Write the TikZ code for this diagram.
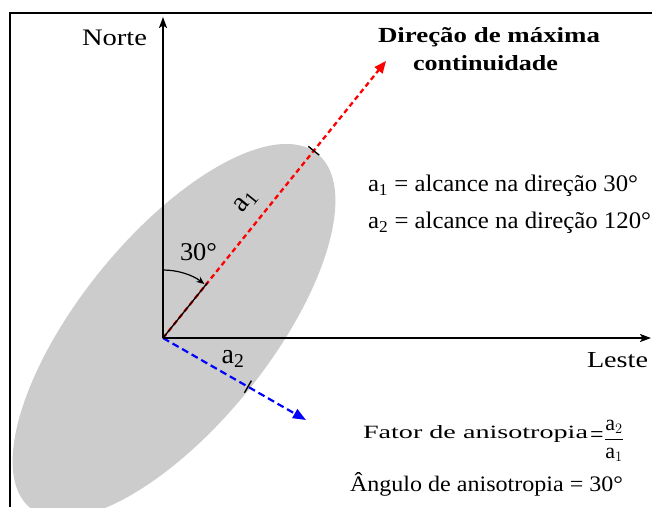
\documentclass[tikz,border=0pt]{standalone}
\usepackage{fontspec}
\setmainfont{Liberation Serif}
\usepackage{graphicx}
\usetikzlibrary{arrows.meta,calc}
\newcommand{\fitbox}[3]{\resizebox{#1}{#2}{#3}}
\definecolor{ellgray}{HTML}{CCCCCC}
\begin{document}
\begin{tikzpicture}[x=1pt,y=1pt,
  txt/.style={anchor=base west, inner sep=0pt, outer sep=0pt, font=\fontsize{20}{22}\selectfont},
  axis/.style={line width=1.8pt, -{Stealth[length=11pt,width=8pt,inset=2.5pt]}},
  reddash/.style={red, line width=2.3pt, dash pattern=on 5pt off 3.5pt, -{Triangle[length=12pt,width=10pt]}},
  bluedash/.style={blue, line width=2.2pt, dash pattern=on 7pt off 4pt, -{Triangle[length=13pt,width=10pt]}},
  tickmark/.style={line width=1.4pt, black},
  axlabel/.style={inner sep=0pt, font=\fontsize{28}{28}\selectfont}]
\useasboundingbox (0,0) rectangle (652,-507);
% ellipse
\fill[ellgray, rotate around={51:(174,-331)}] (174,-331) ellipse [x radius=228, y radius=95];
% frame
\draw[line width=1.5pt] (10,-507) -- (10,-13) -- (652,-13);
% coordinates
\coordinate (O) at (163,-338);
\coordinate (N) at (163,-17);
\coordinate (E) at (651,-338);
\coordinate (R) at (386,-61);
\coordinate (B) at (306,-420);
\coordinate (K) at ($(O)!0.2!(R)$);
\coordinate (T1) at ($(O)!0.676!(R)$);
\coordinate (T2) at ($(O)!0.594!(B)$);
% direction lines
\draw[reddash] (O) -- (R);
\draw[bluedash] (O) -- (B);
\draw[line width=1.3pt] (O) -- (K);
% axes
\draw[axis] (O) -- (N);
\draw[axis] (O) -- (E);
% ticks
\draw[tickmark] ($(T1)!7pt!90:(R)$) -- ($(T1)!7pt!-90:(R)$);
\draw[tickmark] ($(T2)!7pt!90:(B)$) -- ($(T2)!7pt!-90:(B)$);
% angle arc
\coordinate (A1) at ($(O)+(90:68)$);
\draw[line width=1.2pt, -{Stealth[length=8pt,width=6.5pt]}] (A1) arc[start angle=90, end angle=52.5, radius=68];
% labels
\node[txt] (norte) at (82,-45) {\fitbox{65pt}{15.5pt}{Norte}};
\node[txt] (dir1) at (378,-42.7) {\fitbox{222pt}{15pt}{\bfseries Direção de máxima}};
\node[txt] (dir2) at (413,-70) {\fitbox{145pt}{15pt}{\bfseries continuidade}};
\node[txt] (def1) at (368,-191.5) {\fitbox{270pt}{16.5pt}{a\textsubscript{1} = alcance na direção 30°}};
\node[txt] (def2) at (368,-228.3) {\fitbox{283pt}{16.5pt}{a\textsubscript{2} = alcance na direção 120°}};
\node[txt] (leste) at (587,-367.7) {\fitbox{61pt}{15pt}{Leste}};
\node[txt] (fator) at (363,-438) {\fitbox{225pt}{13pt}{Fator de anisotropia}};
\node[inner sep=0pt, font=\fontsize{24}{24}\selectfont] (eq) at (597,-437) {=};
\node[inner sep=0pt, font=\fontsize{22}{22}\selectfont] (frac) at (614,-441) {$\displaystyle\frac{\hbox{a}_{2}}{\hbox{a}_{1}}$};
\node[txt] (angulo) at (350,-491.7) {\fitbox{273pt}{19pt}{Ângulo de anisotropia = 30°}};
\node[txt] (ang30) at (180,-260.7) {\fitbox{37pt}{17pt}{30°}};
\node[axlabel, rotate=51] (la1) at (246,-202) {a\textsubscript{1}};
\node[axlabel] (la2) at (233,-359) {a\textsubscript{2}};
\end{tikzpicture}
\end{document}
